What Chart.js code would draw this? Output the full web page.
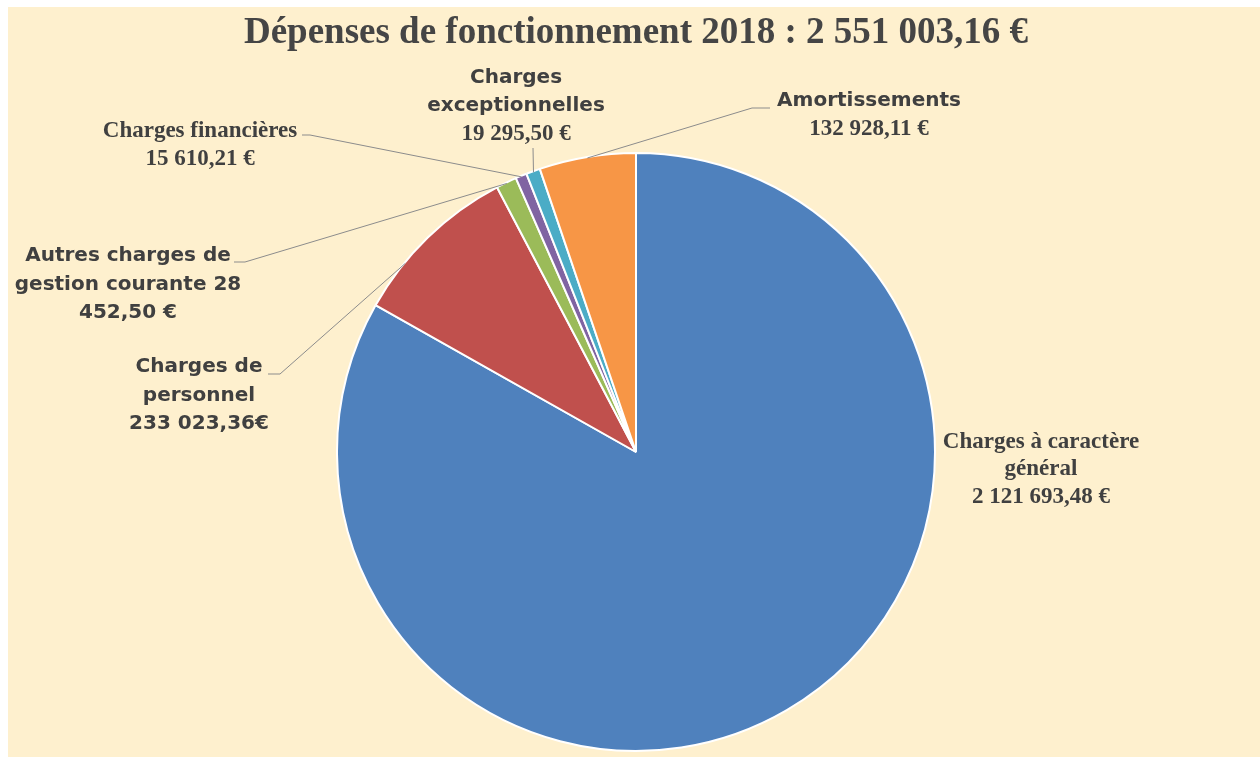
<!DOCTYPE html>
<html>
<head>
<meta charset="utf-8">
<script src="https://cdn.jsdelivr.net/npm/chart.js@4.4.1/dist/chart.umd.min.js"></script>
<style>
  html, body { margin: 0; padding: 0; background: #ffffff; }
  #wrap { position: relative; width: 1260px; height: 757px; }
</style>
</head>
<body>
<div id="wrap"><canvas id="pieChart"></canvas></div>
<script>
// donnees
const categories = [
    'Charges à caractère général',
    'Charges de personnel',
    'Autres charges de gestion courante',
    'Charges financières',
    'Charges exceptionnelles',
    'Amortissements'
];
const montants = [2121693.48, 233023.36, 28452.50, 15610.21, 19295.50, 132928.11];
const couleurs = ['#4F81BD', '#C0504D', '#9BBB59', '#8064A2', '#4BACC6', '#F79646'];
const etiquettes = [
    ['Charges à caractère', 'général', '2 121 693,48 €'],
    ['Charges de', 'personnel', '233 023,36€'],
    ['Autres charges de', 'gestion courante 28', '452,50 €'],
    ['Charges financières', '15 610,21 €'],
    ['Charges', 'exceptionnelles', '19 295,50 €'],
    ['Amortissements', '132 928,11 €']
];
const titre = 'Dépenses de fonctionnement 2018 : 2 551 003,16 €';

const SERIF = 'bold 23px "Liberation Serif", serif';
const SANS = 'bold 20px "DejaVu Sans", sans-serif';

// placement des etiquettes (x centre, y du milieu de chaque ligne, police de chaque ligne)
const placement = [
    { x: 1041, y: [442, 469, 497], fonts: [SERIF, SERIF, SERIF], line: null },
    { x: 199, y: [367, 396, 424], fonts: [SANS, SANS, SANS], line: [[268, 374], [280, 374]], at: 0.3 },
    { x: 128, y: [256, 285, 313], fonts: [SANS, SANS, SANS], line: [[234, 262], [245, 262]], at: 0.5 },
    { x: 200, y: [131, 159], fonts: [SERIF, SERIF], line: [[302, 135], [310, 135]], at: 0.5 },
    { x: 516, y: [78, 106, 134], fonts: [SANS, SANS, SERIF], line: [[533, 148]], at: 0.5 },
    { x: 869, y: [101, 129], fonts: [SANS, SERIF], line: [[770, 108], [752, 108]], at: 0.5 }
];

const fondPlugin = {
    id: 'fond',
    beforeDraw(chart) {
        const ctx = chart.ctx;
        ctx.save();
        ctx.fillStyle = '#FEF0CE';
        ctx.fillRect(8, 7, chart.width - 8, chart.height - 7);
        ctx.restore();
    }
};

const etiquettesPlugin = {
    id: 'etiquettes',
    afterDatasetsDraw(chart) {
        const ctx = chart.ctx;
        const arcs = chart.getDatasetMeta(0).data;
        ctx.save();
        // lignes de rappel
        ctx.strokeStyle = '#8C8C8C';
        ctx.lineWidth = 1;
        placement.forEach((p, i) => {
            if (!p.line) return;
            const arc = arcs[i];
            const a = arc.startAngle + p.at * (arc.endAngle - arc.startAngle);
            const ex = arc.x + Math.cos(a) * (arc.outerRadius - 1);
            const ey = arc.y + Math.sin(a) * (arc.outerRadius - 1);
            ctx.beginPath();
            ctx.moveTo(p.line[0][0], p.line[0][1]);
            for (let k = 1; k < p.line.length; k++) ctx.lineTo(p.line[k][0], p.line[k][1]);
            ctx.lineTo(ex, ey);
            ctx.stroke();
        });
        // textes
        ctx.fillStyle = '#404040';
        ctx.textAlign = 'center';
        ctx.textBaseline = 'middle';
        placement.forEach((p, i) => {
            etiquettes[i].forEach((txt, k) => {
                ctx.font = p.fonts[k];
                ctx.fillText(txt, p.x, p.y[k]);
            });
        });
        ctx.restore();
    }
};

const pieData = {
    labels: categories,
    datasets: [{
        data: montants,
        backgroundColor: couleurs,
        borderColor: '#FFFFFF',
        borderWidth: 2
    }]
};

const pieConfig = {
    type: 'pie',
    data: pieData,
    options: {
        responsive: false,
        animation: false,
        layout: {
            padding: { left: 12, right: 0, top: 0, bottom: 5 }
        },
        plugins: {
            legend: { display: false },
            tooltip: { enabled: false },
            title: {
                display: true,
                text: titre,
                color: '#454545',
                font: { family: '"Liberation Serif", serif', size: 37, weight: 'bold', lineHeight: 1.2 },
                padding: { top: 11, bottom: 96.6 }
            }
        }
    },
    plugins: [fondPlugin, etiquettesPlugin]
};

const canvas = document.getElementById('pieChart');
canvas.width = 1260;
canvas.height = 757;
const pieChart = new Chart(canvas, pieConfig);
</script>
</body>
</html>
